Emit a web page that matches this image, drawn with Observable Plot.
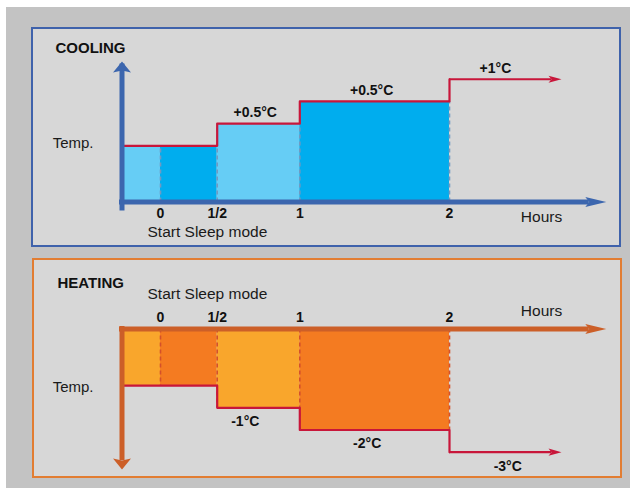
<!DOCTYPE html>
<html><head><meta charset="utf-8">
<script src="https://cdn.jsdelivr.net/npm/d3@7"></script>
<script src="https://cdn.jsdelivr.net/npm/@observablehq/plot@0.6"></script>
<style>
html,body{margin:0;padding:0;background:#fff;}
#wrap{position:relative;width:640px;height:488px;overflow:hidden;font-family:"Liberation Sans",Arial,sans-serif;}
#bg{position:absolute;left:6px;top:7px;width:624px;height:481px;background:#c3c3c3;}
.panel{position:absolute;box-sizing:border-box;border:2px solid;background:#d7d7d7;}
#coolBox{left:31px;top:27px;width:590px;height:220px;border-color:#3f62ab;}
#heatBox{left:32px;top:258px;width:590px;height:220px;border-color:#e27d32;}
#cool{position:absolute;left:0;top:0;}
#heat{position:absolute;left:0;top:250px;}
</style></head><body>
<div id="wrap"><div id="bg"></div><div class="panel" id="coolBox"></div><div class="panel" id="heatBox"></div><div id="cool"></div><div id="heat"></div></div>
<script>
// ---- data ----
const hourTicks = [0, 0.5, 1, 2];
const hourLabels = ["0", "1/2", "1", "2"];
const axisStartHour = -0.33;
const lineEndHour = 3;
const axisEndHour = 3.4;
const segStart = [-0.33, 0, 0.5, 1];
const segEnd = [0, 0.5, 1, 2];
const segTone = ["light", "dark", "light", "dark"];
const coolLevel = [0, 0, 1, 2];   // temperature step index per period
const heatLevel = [0, 0, 1, 2];
const finalLevel = 3;
const coolStepText = ["+0.5°C", "+0.5°C", "+1°C"];
const coolStepHour = [0.73, 1.48, 2.41];
const heatStepText = ["-1°C", "-2°C", "-3°C"];
const heatStepHour = [0.67, 1.45, 2.52];
const stepLevels = [1, 2, 3];
const coolAxis = [-2.53, 3.8];    // level at horizontal axis, level at arrow tip
const heatAxis = [-2.55, 3.78];
// drawn (non-uniform) width of each interval of the broken time axis
const breakHours = [axisStartHour, ...hourTicks, lineEndHour];
const breakWidths = [38.5, 56.7, 82.6, 149.7, 112];

// ---- styles ----
const FONT = "Liberation Sans, Arial, Helvetica, sans-serif";
const RED = "#c8163a";
const COOL = {light: "#66cdf5", dark: "#00adee", dash: "#7199c2", axis: "#3c66ae"};
const HEAT = {light: "#f9a62c", dark: "#f47b21", dash: "#d4502a", axis: "#cc5f28"};

const sym = (pts) => ({draw(ctx) { ctx.moveTo(pts[0][0], pts[0][1]); for (const p of pts.slice(1)) ctx.lineTo(p[0], p[1]); ctx.closePath(); }});
const dartRight = sym([[0,0],[-21,-5],[-17,0],[-21,5]]);
const dartUp = sym([[0,0],[9,11],[0,9],[-9,11]]);
const dartDown = sym([[0,0],[9,-11],[0,-9],[-9,-11]]);
const redDart = sym([[0,0],[-13,-3.6],[-10,0],[-13,3.6]]);

// warp hours so that each interval gets its drawn width; endpoints map to themselves
const cum = [0]; breakWidths.forEach(w => cum.push(cum[cum.length - 1] + w));
const h0 = breakHours[0], hN = breakHours[breakHours.length - 1];
const warp = d3.scaleLinear().domain(breakHours).range(cum.map(c => h0 + c / cum[cum.length - 1] * (hN - h0)));
const xScale = {domain: [h0, hN], range: [121.5, 561], transform: d => warp(d), axis: null};

function build(levels, P, axisLv, stepText, stepHour, heating) {
  const segs = segStart.map((s, i) => ({x1: s, x2: segEnd[i], tone: segTone[i], lv: levels[i]}));
  const dash = hourTicks.map(h => ({h, top: d3.max(segs.filter(s => s.x1 === h || s.x2 === h), s => s.lv)}));
  const linePts = segs.map(s => ({x: s.x1, lv: s.lv})).concat([{x: segEnd[segEnd.length - 1], lv: finalLevel}]);
  const steps = stepText.map((t, i) => ({t, h: stepHour[i], lv: stepLevels[i]}));
  const ticks = hourTicks.map((h, i) => ({h, t: hourLabels[i]}));
  const [base, tip] = axisLv;
  const dyLab = heating ? 14 : -11;
  return [
    Plot.rect(segs, {x1: "x1", x2: "x2", y1: base, y2: "lv", fill: d => P[d.tone]}),
    Plot.ruleX(dash, {x: "h", y1: base, y2: "top", stroke: P.dash, strokeWidth: 1.6, strokeDasharray: "4,3"}),
    Plot.line(linePts, {x: "x", y: "lv", curve: "step-after", stroke: RED, strokeWidth: 2.2}),
    Plot.ruleY([finalLevel], {x1: segEnd[segEnd.length - 1], x2: lineEndHour, insetRight: 10, stroke: RED, strokeWidth: 2.2}),
    Plot.dot([finalLevel], {x: lineEndHour, y: d => d, symbol: redDart, fill: RED, stroke: null}),
    // axes
    Plot.ruleX([axisStartHour], {x: d => d, y1: base, y2: tip, stroke: P.axis, strokeWidth: 5,
      insetTop: heating ? -2.5 : 9, insetBottom: heating ? 9 : -2.5}),
    Plot.ruleY([base], {y: d => d, x1: axisStartHour, x2: axisEndHour, stroke: P.axis, strokeWidth: 5, insetLeft: -2.5, insetRight: 17}),
    Plot.dot([tip], {x: axisStartHour, y: d => d, symbol: heating ? dartDown : dartUp, fill: P.axis, stroke: null}),
    Plot.dot([base], {x: axisEndHour, y: d => d, symbol: dartRight, fill: P.axis, stroke: null}),
    Plot.text(ticks, {x: "h", y: base, text: "t", dy: heating ? -11.5 : 11.5, fontWeight: "bold", fontSize: 14, fill: "#111"}),
    // annotations
    Plot.text(steps, {x: "h", y: "lv", text: "t", dy: dyLab, fontWeight: "bold", fontSize: 14, fill: "#111"}),
    Plot.text(["Start Sleep mode"], {x: 0, y: base, textAnchor: "start", dx: -13, dy: heating ? -34.5 : 30.5, fontSize: 15.5, fill: "#1a1a1a"}),
    Plot.text(["Hours"], {x: lineEndHour, y: base, dx: -20, dy: heating ? -17.5 : 15.5, fontSize: 15.5, fill: "#1a1a1a"}),
    Plot.text(["Temp."], {x: axisStartHour, y: 0, textAnchor: "end", dx: -28.5, dy: heating ? 2 : -2.5, fontSize: 15, fill: "#1a1a1a"}),
    Plot.text([heating ? "HEATING" : "COOLING"], {frameAnchor: "top-left", textAnchor: "start", lineAnchor: "middle",
      dx: heating ? 57 : 55, dy: heating ? -45.5 : 48, fontWeight: "bold", fontSize: 15, fill: "#111"})
  ];
}

const cool = Plot.plot({
  width: 640, height: 250,
  marginTop: 0, marginLeft: 0, marginRight: 0, marginBottom: 48.5,
  style: {background: "transparent", fontFamily: FONT, overflow: "visible"},
  x: xScale,
  y: {domain: coolAxis, range: [201.5, 61], axis: null},
  marks: build(coolLevel, COOL, coolAxis, coolStepText, coolStepHour, false)
});
document.getElementById("cool").appendChild(cool);

const heat = Plot.plot({
  width: 640, height: 238,
  marginTop: 78.5, marginLeft: 0, marginRight: 0, marginBottom: 0,
  style: {background: "transparent", fontFamily: FONT, overflow: "visible"},
  x: xScale,
  y: {domain: heatAxis, range: [78.5, 219], axis: null},
  marks: build(heatLevel, HEAT, heatAxis, heatStepText, heatStepHour, true)
});
document.getElementById("heat").appendChild(heat);
</script>
</body></html>
